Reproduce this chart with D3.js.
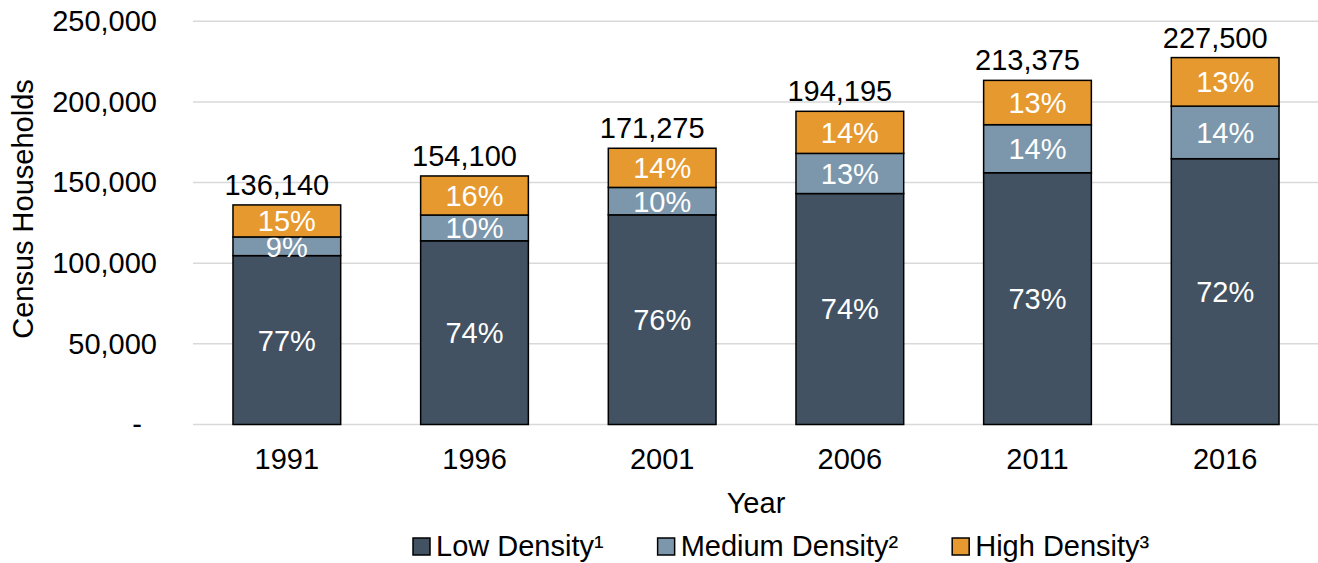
<!DOCTYPE html>
<html>
<head>
    <meta charset="utf-8">
    <title>Census Households by Density</title>
    <script src="https://d3js.org/d3.v7.min.js"></script>
    <style>
        body { margin: 0; background: #fff; }
        text { font-family: "Liberation Sans", Arial, sans-serif; font-size: 29px; fill: #000; }
        .grid line { stroke: #d9d9d9; stroke-width: 1.5px; }
        .seg { stroke: #000; stroke-width: 1.5px; }
        .pct { fill: #fff; text-anchor: middle; }
    </style>
</head>
<body>
<svg width="1318" height="563"></svg>
<script>
    // data
    var years = ["1991", "1996", "2001", "2006", "2011", "2016"];
    var lowDensity = [104700, 113900, 130000, 143200, 156100, 164800];
    var mediumDensity = [11600, 16000, 17000, 24900, 29800, 32600];
    var highDensity = [19840, 24200, 24275, 26095, 27475, 30100];
    var totals = [136140, 154100, 171275, 194195, 213375, 227500];
    var lowPct = ["77%", "74%", "76%", "74%", "73%", "72%"];
    var mediumPct = ["9%", "10%", "10%", "13%", "14%", "14%"];
    var highPct = ["15%", "16%", "14%", "14%", "13%", "13%"];
    var yTicks = [0, 50000, 100000, 150000, 200000, 250000];
    var seriesNames = ["Low Density\u00b9", "Medium Density\u00b2", "High Density\u00b3"];
    var colors = ["#425262", "#7c97ab", "#e5992f"];

    var svg = d3.select("svg");

    var x = d3.scaleBand().domain(years).range([193, 1319])
        .paddingInner(0.426).paddingOuter(0.213);
    var y = d3.scaleLinear().domain([0, 250000]).range([424.5, 21.3]);

    // gridlines
    svg.append("g").attr("class", "grid")
        .selectAll("line").data(yTicks).enter().append("line")
        .attr("x1", 193).attr("x2", 1318)
        .attr("y1", function (d) { return y(d); })
        .attr("y2", function (d) { return y(d); });

    // y axis labels (no domain line, no ticks)
    var yAxis = d3.axisLeft(y).tickValues(yTicks).tickSize(0).tickPadding(0)
        .tickFormat(function (d) { return d === 0 ? "-" : d3.format(",")(d); });
    var yg = svg.append("g").attr("transform", "translate(157,0)").call(yAxis);
    yg.select(".domain").remove();
    yg.selectAll("text")
        .style("font-size", "29px").style("font-family", "Liberation Sans, Arial, sans-serif")
        .attr("fill", "#000")
        .attr("dx", function (d) { return d === 0 ? -15 : 0; });

    // x axis labels
    var xAxis = d3.axisBottom(x).tickSize(0).tickPadding(0);
    var xg = svg.append("g").attr("transform", "translate(0,448)").call(xAxis);
    xg.select(".domain").remove();
    xg.selectAll("text")
        .style("font-size", "29px").style("font-family", "Liberation Sans, Arial, sans-serif")
        .attr("fill", "#000").attr("dy", "0.72em");

    // stack
    var rows = years.map(function (yr, i) {
        return { year: yr, low: lowDensity[i], medium: mediumDensity[i], high: highDensity[i],
                 pct: { low: lowPct[i], medium: mediumPct[i], high: highPct[i] }, total: totals[i] };
    });
    var keys = ["low", "medium", "high"];
    var stacked = d3.stack().keys(keys)(rows);

    var layer = svg.selectAll(".layer")
        .data(stacked).enter().append("g")
        .attr("class", "layer")
        .attr("fill", function (d, i) { return colors[i]; });

    layer.selectAll("rect")
        .data(function (d) { return d; })
        .enter().append("rect")
        .attr("class", "seg")
        .attr("x", function (d) { return x(d.data.year); })
        .attr("width", x.bandwidth())
        .attr("y", function (d) { return y(d[1]); })
        .attr("height", function (d) { return y(d[0]) - y(d[1]); });

    layer.selectAll(".pct")
        .data(function (s) {
            return s.map(function (d) { return { d: d, key: s.key }; });
        })
        .enter().append("text")
        .attr("class", "pct")
        .attr("x", function (o) { return x(o.d.data.year) + x.bandwidth() / 2; })
        .attr("y", function (o) { return (y(o.d[0]) + y(o.d[1])) / 2; })
        .attr("dy", "0.36em")
        .text(function (o) { return o.d.data.pct[o.key]; });

    // total labels
    svg.selectAll(".total")
        .data(rows).enter().append("text")
        .attr("class", "total")
        .attr("text-anchor", "middle")
        .attr("x", function (d) { return x(d.year) + x.bandwidth() / 2 - 10; })
        .attr("y", function (d) { return y(d.total) - 10; })
        .text(function (d) { return d3.format(",")(d.total); });

    // axis titles
    svg.append("text")
        .attr("transform", "translate(33,209) rotate(-90)")
        .attr("text-anchor", "middle")
        .text("Census Households");

    svg.append("text")
        .attr("x", 756).attr("y", 513)
        .attr("text-anchor", "middle")
        .text("Year");

    // legend
    var legend = svg.append("g").attr("transform", "translate(413,0)");
    var lx = 0;
    seriesNames.forEach(function (name, i) {
        var g = legend.append("g").attr("transform", "translate(" + lx + ",0)");
        g.append("rect")
            .attr("x", 0).attr("y", 538)
            .attr("width", 17).attr("height", 17)
            .attr("fill", colors[i])
            .attr("stroke", "#000").attr("stroke-width", 1.5);
        var t = g.append("text")
            .attr("x", 23).attr("y", 556)
            .text(name);
        lx += 23 + t.node().getComputedTextLength() + 54;
    });
</script>
</body>
</html>
